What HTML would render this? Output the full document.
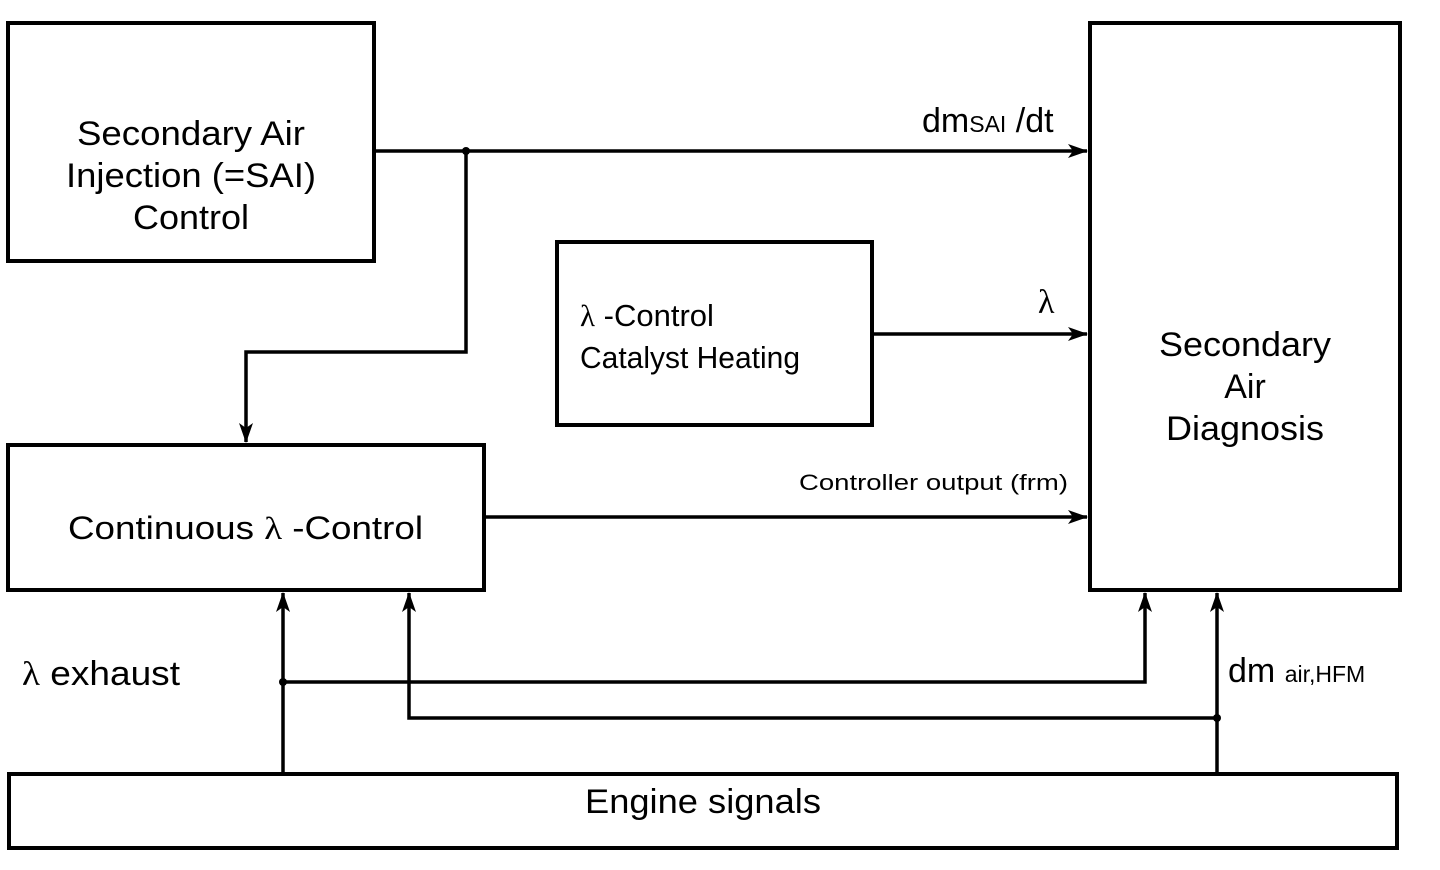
<!DOCTYPE html>
<html><head><meta charset="utf-8"><style>
html,body{margin:0;padding:0;background:#fff;}
svg{display:block;}
text{font-family:"Liberation Sans",sans-serif;fill:#000;}
.l{font-family:"Liberation Serif",serif;}
</style></head><body>
<svg width="1440" height="870" viewBox="0 0 1440 870" xmlns="http://www.w3.org/2000/svg">
<defs>
<marker id="a" viewBox="0 0 20 14" refX="19" refY="7" markerWidth="20" markerHeight="14" markerUnits="userSpaceOnUse" orient="auto">
<path d="M0,0 L20,7 L0,14 L5,7 Z" fill="#000"/>
</marker>
</defs>
<g fill="none" stroke="#000" stroke-width="4">
<rect x="8" y="23" width="366" height="238"/>
<rect x="557" y="242" width="315" height="183"/>
<rect x="8" y="445" width="476" height="145"/>
<rect x="1090" y="23" width="310" height="567"/>
<rect x="9" y="774" width="1388" height="74"/>
</g>
<g fill="none" stroke="#000" stroke-width="3.5">
<line x1="376" y1="151" x2="1087" y2="151" marker-end="url(#a)"/>
<polyline points="466,151 466,352 246,352 246,442" marker-end="url(#a)"/>
<line x1="873" y1="334" x2="1087" y2="334" marker-end="url(#a)"/>
<line x1="486" y1="517" x2="1087" y2="517" marker-end="url(#a)"/>
<line x1="283" y1="772" x2="283" y2="593" marker-end="url(#a)"/>
<polyline points="283,682 1145,682 1145,593" marker-end="url(#a)"/>
<polyline points="1217,718 409,718 409,593" marker-end="url(#a)"/>
<line x1="1217" y1="772" x2="1217" y2="593" marker-end="url(#a)"/>
</g>
<g fill="#000">
<circle cx="466" cy="151" r="4"/>
<circle cx="283" cy="682" r="4"/>
<circle cx="1217" cy="718" r="4"/>
</g>
<g font-size="34" text-anchor="middle">
<text x="191" y="145" textLength="228" lengthAdjust="spacingAndGlyphs">Secondary Air</text>
<text x="191" y="187" textLength="250" lengthAdjust="spacingAndGlyphs">Injection (=SAI)</text>
<text x="191" y="229" textLength="116" lengthAdjust="spacingAndGlyphs">Control</text>
<text x="1245" y="356" textLength="172" lengthAdjust="spacingAndGlyphs">Secondary</text>
<text x="1245" y="398">Air</text>
<text x="1245" y="440" textLength="158" lengthAdjust="spacingAndGlyphs">Diagnosis</text>
<text x="703" y="813" textLength="236" lengthAdjust="spacingAndGlyphs">Engine signals</text>
</g>
<text x="580" y="326" font-size="31"><tspan class="l">λ</tspan> -Control</text>
<text x="580" y="368" font-size="31" textLength="220" lengthAdjust="spacingAndGlyphs">Catalyst Heating</text>
<text x="68" y="539" font-size="32" textLength="355" lengthAdjust="spacingAndGlyphs">Continuous <tspan class="l">λ</tspan> -Control</text>
<text x="22" y="685" font-size="34" textLength="158" lengthAdjust="spacingAndGlyphs"><tspan class="l">λ</tspan> exhaust</text>
<text x="1228" y="682" font-size="34">dm <tspan font-size="23">air,HFM</tspan></text>
<text x="799" y="490" font-size="22" textLength="269" lengthAdjust="spacingAndGlyphs">Controller output (frm)</text>
<text x="922" y="132" font-size="34">dm<tspan font-size="23">SAI</tspan> /dt</text>
<text class="l" x="1038" y="313" font-size="34">λ</text>
</svg>
</body></html>
